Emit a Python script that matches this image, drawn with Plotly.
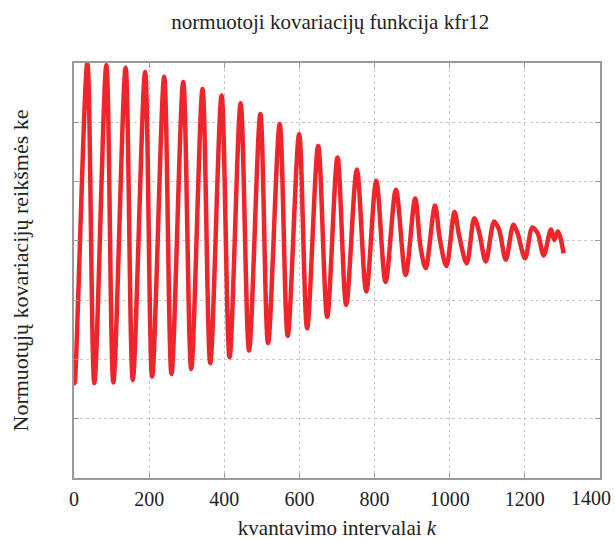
import plotly.graph_objects as go

# lag index k and normalised covariance values (extrema + shoulders)
k_vals = [0, 2, 35.5, 54.1, 86.1, 104.8, 137.3, 156.5, 189.3, 208, 240, 259.5,
          290.7, 312, 342.1, 362.7, 392.8, 414.1, 443.5, 465.9, 496, 516.5,
          547.5, 568.8, 599.2, 620.5, 649.9, 673.9, 701.3, 724.5, 752.8, 777.9,
          804.5, 829.3, 856.8, 882.7, 908, 922.7, 936, 960.8, 974.1, 991.2,
          1012.8, 1024.8, 1045.3, 1065.3, 1078.1, 1096, 1118.1, 1131.5, 1149.3,
          1169.3, 1180.5, 1200.5, 1220, 1233.9, 1250.1, 1269.3, 1278.1, 1288, 1303.2]
ke_vals = [-0.25, -0.28, 0.80, -0.280, 0.793, -0.278, 0.784, -0.269, 0.770, -0.258,
           0.754, -0.249, 0.736, -0.232, 0.712, -0.213, 0.690, -0.193, 0.664, -0.170,
           0.628, -0.145, 0.594, -0.121, 0.560, -0.095, 0.520, -0.056, 0.481, -0.016,
           0.441, 0.029, 0.403, 0.061, 0.372, 0.085, 0.343, 0.176, 0.108, 0.319,
           0.203, 0.115, 0.297, 0.220, 0.124, 0.276, 0.231, 0.130, 0.265, 0.237,
           0.136, 0.254, 0.226, 0.141, 0.245, 0.226, 0.151, 0.238, 0.203, 0.232, 0.158]

x_ticks = [0, 200, 400, 600, 800, 1000, 1200, 1400]
x_tick_labels = ["0", "200", "400", "600", "800", "1000", "1200", "1400"]

FONT = "Liberation Serif, Times New Roman, serif"
TXT = "#222222"

fig = go.Figure()
fig.add_trace(go.Scatter(
    x=k_vals, y=ke_vals, mode="lines",
    line=dict(color="rgb(238,38,44)", width=4.5, shape="spline", smoothing=0.9),
    cliponaxis=True, showlegend=False,
))

axis_common = dict(
    showline=True, linecolor="#9a9a9a", linewidth=1.5, mirror="ticks",
    ticks="inside", ticklen=5, tickcolor="#9a9a9a", tickwidth=1,
    showgrid=True, gridcolor="#c8c8c8", griddash="dot", gridwidth=1,
    zeroline=False, automargin=False,
)

# last tick label is drawn as an annotation so it can sit fully inside the page
tick_text = x_tick_labels[:-1] + [""]

fig.update_layout(
    width=615, height=540,
    margin=dict(l=74, r=15, t=63, b=62),
    paper_bgcolor="white", plot_bgcolor="white",
    font=dict(family=FONT, color=TXT, size=20),
    title=dict(text="normuotoji kovariacijų funkcija kfr12", x=0.537, xanchor="center",
               y=0.96, yanchor="middle", font=dict(family=FONT, size=21, color=TXT)),
    xaxis=dict(range=[0, 1400], tickvals=x_ticks, ticktext=tick_text,
               ticklabelstandoff=2,
               tickfont=dict(family=FONT, size=20, color=TXT),
               title=dict(text="kvantavimo intervalai <i>k</i>", standoff=20,
                          font=dict(family=FONT, size=21, color=TXT)),
               **axis_common),
    yaxis=dict(range=[-0.6, 0.8], dtick=0.2, tick0=0, showticklabels=False,
               title=dict(text="Normuotųjų kovariacijų reikšmės ke", standoff=38,
                          font=dict(family=FONT, size=22, color=TXT)),
               **axis_common),
    annotations=[dict(text=x_tick_labels[-1], x=x_ticks[-1], xref="x", y=0, yref="paper",
                      xanchor="right", yanchor="middle", xshift=13, yshift=-20,
                      showarrow=False, font=dict(family=FONT, size=20, color=TXT))],
)

fig.write_html("out.html", config={"displayModeBar": False},
               post_script="document.body.style.margin='0px';")
